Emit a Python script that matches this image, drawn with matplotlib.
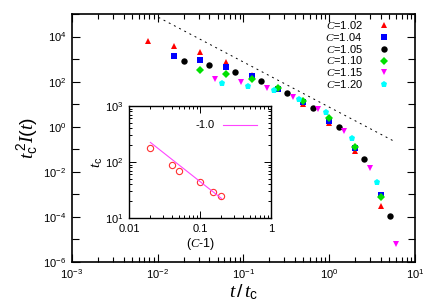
import numpy as np
import matplotlib
matplotlib.use('Agg')
import matplotlib.pyplot as plt
from matplotlib.ticker import LogLocator, NullFormatter, FixedLocator

plt.rcParams['font.family'] = 'Liberation Sans'
plt.rcParams['mathtext.fontset'] = 'custom'
plt.rcParams['mathtext.rm'] = 'Liberation Sans'
plt.rcParams['mathtext.it'] = 'Liberation Serif:italic'
plt.rcParams['mathtext.bf'] = 'Liberation Sans:bold'

# scaled data: t/t_c and t_c^2 I(t) for each C
x102 = [0.0078, 0.0155, 0.031, 0.062, 0.125, 0.25, 0.5, 1.0, 2.0, 4.0]
y102 = [6170, 3890, 2000, 708, 200, 50, 10.2, 1.48, 0.081, 3.2e-4]

x104 = [0.0155, 0.031, 0.062, 0.125, 0.25, 0.5, 1.0, 2.0, 4.0]
y104 = [1410, 912, 457, 182, 48, 12.0, 1.82, 0.112, 9.1e-4]

x105 = [0.020, 0.040, 0.080, 0.16, 0.32, 0.645, 1.29, 2.57, 5.13]
y105 = [851, 562, 282, 110, 31, 7.1, 0.95, 0.039, 1.05e-4]

x110 = [0.031, 0.062, 0.125, 0.25, 0.5, 1.0, 2.0, 4.0]
y110 = [316, 214, 129, 52, 14.5, 2.45, 0.132, 7.4e-4]

x115 = [0.047, 0.093, 0.186, 0.38, 0.74, 1.50, 3.0, 6.0]
y115 = [126, 95, 54, 21.4, 6.0, 0.65, 0.0148, 6.0e-6]

x120 = [0.056, 0.112, 0.224, 0.45, 0.91, 1.82, 3.63]
y120 = [85, 65, 41, 17.4, 4.3, 0.33, 0.0035]

# slope -2 guide line
guide_x = [0.0102, 5.6]
guide_y = [71100, 0.236]

# inset: t_c vs (C-1)
inset_c1 = [0.02, 0.04, 0.05, 0.10, 0.15, 0.20]
inset_tc = [180, 89, 69, 44.5, 29.5, 24.7]
fit_x = [0.02, 0.2]
fit_y = [224, 22.4]

series = [
    (x102, y102, 'C=1.02', '^', '#ff0000'),
    (x104, y104, 'C=1.04', 's', '#0000ff'),
    (x105, y105, 'C=1.05', 'o', '#000000'),
    (x110, y110, 'C=1.10', 'D', '#00e000'),
    (x115, y115, 'C=1.15', 'v', '#ff00ff'),
    (x120, y120, 'C=1.20', 'p', '#00ffff'),
]

fig = plt.figure(figsize=(4.36, 3.05), dpi=100)
ax = fig.add_axes([0.1651, 0.141, 0.7867, 0.813])

for xs, ys, lab, mk, col in series:
    ms = 4.0 if mk == 'D' else 4.6
    ax.plot(xs, ys, linestyle='none', marker=mk, color=col, markersize=ms,
            markeredgewidth=0, label=r'$C$' + lab[1:])

ax.plot(guide_x, guide_y, color='black', linestyle=(0, (2, 4)), linewidth=0.7)

ax.set_xscale('log')
ax.set_yscale('log')
ax.set_xlim(1e-3, 1e1)
ax.set_ylim(1e-6, 1e5)
ax.yaxis.set_major_locator(FixedLocator([10.0**k for k in range(-6, 5, 2)]))
ax.yaxis.set_minor_locator(FixedLocator([10.0**k for k in range(-5, 6, 2)]))
ax.yaxis.set_minor_formatter(NullFormatter())
ax.xaxis.set_major_locator(LogLocator(base=10, numticks=10))
ax.xaxis.set_minor_locator(LogLocator(base=10, subs=np.arange(2, 10), numticks=20))
ax.xaxis.set_minor_formatter(NullFormatter())
ax.tick_params(which='both', direction='in', top=True, right=True, labelsize=8, width=0.8)
ax.tick_params(which='major', length=6, pad=4)
ax.tick_params(which='minor', length=3.5)
ax.tick_params(axis='y', which='minor', length=5)
for sp in ax.spines.values():
    sp.set_linewidth(1.2)

ax.set_xlabel(r'$t\,/\,t_{\mathrm{c}}$', fontsize=14, labelpad=1)
ax.set_ylabel(r'$t_{\mathrm{c}}^{\,2}I(t)$', fontsize=14, labelpad=2)

leg = ax.legend(loc='upper right', frameon=False, markerfirst=False, fontsize=8,
                handlelength=1.0, handletextpad=1.4, labelspacing=-0.02,
                borderaxespad=0.0, borderpad=0.3, bbox_to_anchor=(0.935, 0.993))

# inset
ins = fig.add_axes([0.2959, 0.2852, 0.3257, 0.3672])
ins.plot(inset_c1, inset_tc, linestyle='none', marker='o', markersize=4.5,
         markerfacecolor='none', markeredgecolor='#ff3030', markeredgewidth=0.8)
ins.plot(fit_x, fit_y, color='#ff44ff', linewidth=0.8, label='-1.0')
ins.set_xscale('log')
ins.set_yscale('log')
ins.set_xlim(0.01, 1)
ins.set_ylim(10, 1000)
ins.set_xticks([0.01, 0.1, 1])
ins.set_xticklabels(['0.01', '0.1', '1'])
ins.xaxis.set_minor_formatter(NullFormatter())
ins.yaxis.set_minor_formatter(NullFormatter())
ins.tick_params(which='both', direction='in', top=True, right=True, labelsize=8, width=0.7)
ins.tick_params(which='major', length=5, pad=4)
ins.tick_params(which='minor', length=2.5)
for sp in ins.spines.values():
    sp.set_linewidth(1.0)
ins.set_xlabel(r'$(C$-1)', fontsize=9, labelpad=2)
ins.set_ylabel(r'$t_{\mathrm{c}}$', fontsize=11, labelpad=0)
ins.legend(loc='upper right', frameon=False, markerfirst=False, fontsize=8,
           handlelength=3.0, handletextpad=0.8, borderaxespad=0.9)

fig.savefig('out.png', dpi=100)
